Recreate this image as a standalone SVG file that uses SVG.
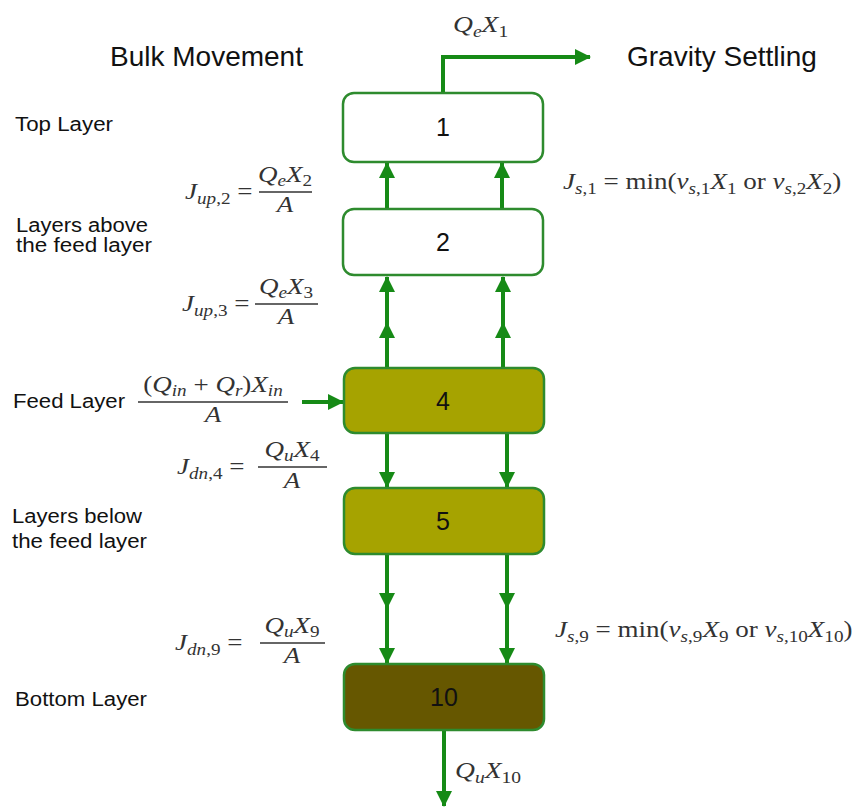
<svg xmlns="http://www.w3.org/2000/svg" width="858" height="807" viewBox="0 0 858 807">
<style>
.lbl{font-family:"Liberation Sans",Arial,sans-serif;font-size:20px;fill:#111}
.hdr{font-family:"Liberation Sans",Arial,sans-serif;font-size:28px;fill:#111}
.num{font-family:"Liberation Sans",Arial,sans-serif;font-size:25px;fill:#111;text-anchor:middle}
.m{font-family:"Liberation Serif","Times New Roman",serif;font-size:24px;fill:#333}
.i{font-style:italic}
.s{font-size:17px}
.c{text-anchor:middle}
.box{stroke:#2e8b2e;stroke-width:2.5}
.w{fill:#fff}
.o{fill:#a6a300}
.d{fill:#665700}
.ar{fill:none;stroke:#168a16;stroke-width:4}
.fl{stroke:#333;stroke-width:1.3}
</style>
<defs>
<marker id="ah" markerUnits="userSpaceOnUse" markerWidth="16" markerHeight="16" viewBox="0 0 16 16" refX="15" refY="8" orient="auto">
<path d="M0 0 L16 8 L0 16 z" fill="#168a16"/>
</marker>
</defs>

<g id="headers">
<text class="hdr" x="110" y="66">Bulk Movement</text>
<text class="hdr" x="627" y="66">Gravity Settling</text>
</g>

<g id="side-labels">
<text class="lbl" x="15" y="131" textLength="98" lengthAdjust="spacingAndGlyphs">Top Layer</text>
<text class="lbl" x="16" y="232" textLength="132" lengthAdjust="spacingAndGlyphs">Layers above</text>
<text class="lbl" x="16" y="252" textLength="136" lengthAdjust="spacingAndGlyphs">the feed layer</text>
<text class="lbl" x="13" y="408" textLength="112" lengthAdjust="spacingAndGlyphs">Feed Layer</text>
<text class="lbl" x="12" y="523" textLength="130" lengthAdjust="spacingAndGlyphs">Layers below</text>
<text class="lbl" x="12" y="548" textLength="135" lengthAdjust="spacingAndGlyphs">the feed layer</text>
<text class="lbl" x="15" y="706" textLength="132" lengthAdjust="spacingAndGlyphs">Bottom Layer</text>
</g>

<g id="connectors">
<path class="ar" d="M443 93 L443 57 L590 57" marker-end="url(#ah)"/>
<path class="ar" d="M387 209 L387 163" marker-end="url(#ah)"/>
<path class="ar" d="M502 209 L502 163" marker-end="url(#ah)"/>
<path class="ar" d="M387 368 L387 323 L387 277" marker-mid="url(#ah)" marker-end="url(#ah)"/>
<path class="ar" d="M503 368 L503 323 L503 277" marker-mid="url(#ah)" marker-end="url(#ah)"/>
<path class="ar" d="M302 402 L343 402" marker-end="url(#ah)"/>
<path class="ar" d="M387 433 L387 487" marker-end="url(#ah)"/>
<path class="ar" d="M507 433 L507 487" marker-end="url(#ah)"/>
<path class="ar" d="M387 555 L387 608 L387 663" marker-mid="url(#ah)" marker-end="url(#ah)"/>
<path class="ar" d="M507 555 L507 608 L507 663" marker-mid="url(#ah)" marker-end="url(#ah)"/>
<path class="ar" d="M444 730 L444 806" marker-end="url(#ah)"/>
</g>

<g id="node1"><rect class="box w" x="343" y="93" width="200" height="69" rx="11"/><text class="num" x="443" y="136">1</text></g>
<g id="node2"><rect class="box w" x="343" y="209" width="200" height="66" rx="11"/><text class="num" x="443" y="251">2</text></g>
<g id="node4"><rect class="box o" x="344" y="368" width="200" height="65" rx="11"/><text class="num" x="443" y="410">4</text></g>
<g id="node5"><rect class="box o" x="344" y="488" width="200" height="66" rx="11"/><text class="num" x="443" y="530">5</text></g>
<g id="node10"><rect class="box d" x="344" y="664" width="200" height="66" rx="11"/><text class="num" x="444" y="706">10</text></g>

<g id="math">
<g transform="translate(453 0) scale(1.15 1)"><text class="m" x="0" y="32"><tspan class="i">Q</tspan><tspan class="s i" dy="5">e</tspan><tspan class="i" dy="-5">X</tspan><tspan class="s" dy="5">1</tspan></text></g>
<g transform="translate(455 0) scale(1.15 1)"><text class="m" x="0" y="778"><tspan class="i">Q</tspan><tspan class="s i" dy="5">u</tspan><tspan class="i" dy="-5">X</tspan><tspan class="s" dy="5">10</tspan></text></g>

<g transform="translate(185 0) scale(1.126 1)"><text class="m" x="0" y="199"><tspan class="i">J</tspan><tspan class="s i" dy="5">up</tspan><tspan class="s">,2</tspan><tspan dy="-5"> =</tspan></text></g>
<g transform="translate(285 0) scale(1.126 1)"><text class="m c" x="0" y="182"><tspan class="i">Q</tspan><tspan class="s i" dy="4">e</tspan><tspan class="i" dy="-4">X</tspan><tspan class="s" dy="4">2</tspan></text>
<text class="m i c" x="0" y="212">A</text></g>
<line class="fl" x1="259" y1="192" x2="312" y2="192"/>

<g transform="translate(182 0) scale(1.126 1)"><text class="m" x="0" y="311"><tspan class="i">J</tspan><tspan class="s i" dy="5">up</tspan><tspan class="s">,3</tspan><tspan dy="-5"> =</tspan></text></g>
<g transform="translate(286 0) scale(1.126 1)"><text class="m c" x="0" y="294"><tspan class="i">Q</tspan><tspan class="s i" dy="4">e</tspan><tspan class="i" dy="-4">X</tspan><tspan class="s" dy="4">3</tspan></text>
<text class="m i c" x="0" y="324">A</text></g>
<line class="fl" x1="255" y1="304" x2="318" y2="304"/>

<g transform="translate(213 0) scale(1.126 1)"><text class="m c" x="0" y="392">(<tspan class="i">Q</tspan><tspan class="s i" dy="4">in</tspan><tspan dy="-4"> + </tspan><tspan class="i">Q</tspan><tspan class="s i" dy="4">r</tspan><tspan dy="-4">)</tspan><tspan class="i">X</tspan><tspan class="s i" dy="4">in</tspan></text>
<text class="m i c" x="0" y="422">A</text></g>
<line class="fl" x1="138" y1="402" x2="288" y2="402"/>

<g transform="translate(177 0) scale(1.126 1)"><text class="m" x="0" y="474"><tspan class="i">J</tspan><tspan class="s i" dy="5">dn</tspan><tspan class="s">,4</tspan><tspan dy="-5"> =</tspan></text></g>
<g transform="translate(292 0) scale(1.126 1)"><text class="m c" x="0" y="457"><tspan class="i">Q</tspan><tspan class="s i" dy="4">u</tspan><tspan class="i" dy="-4">X</tspan><tspan class="s" dy="4">4</tspan></text>
<text class="m i c" x="0" y="488">A</text></g>
<line class="fl" x1="258" y1="467" x2="327" y2="467"/>

<g transform="translate(175 0) scale(1.126 1)"><text class="m" x="0" y="650"><tspan class="i">J</tspan><tspan class="s i" dy="5">dn</tspan><tspan class="s">,9</tspan><tspan dy="-5"> =</tspan></text></g>
<g transform="translate(292 0) scale(1.126 1)"><text class="m c" x="0" y="633"><tspan class="i">Q</tspan><tspan class="s i" dy="4">u</tspan><tspan class="i" dy="-4">X</tspan><tspan class="s" dy="4">9</tspan></text>
<text class="m i c" x="0" y="663">A</text></g>
<line class="fl" x1="260" y1="643" x2="325" y2="643"/>

<g transform="translate(563 0) scale(1.126 1)"><text class="m" x="0" y="189"><tspan class="i">J</tspan><tspan class="s i" dy="5">s</tspan><tspan class="s">,1</tspan><tspan dy="-5"> = min(</tspan><tspan class="i">v</tspan><tspan class="s i" dy="5">s</tspan><tspan class="s">,1</tspan><tspan class="i" dy="-5">X</tspan><tspan class="s" dy="5">1</tspan><tspan dy="-5"> or </tspan><tspan class="i">v</tspan><tspan class="s i" dy="5">s</tspan><tspan class="s">,2</tspan><tspan class="i" dy="-5">X</tspan><tspan class="s" dy="5">2</tspan><tspan dy="-5">)</tspan></text></g>

<g transform="translate(555 0) scale(1.126 1)"><text class="m" x="0" y="637"><tspan class="i">J</tspan><tspan class="s i" dy="5">s</tspan><tspan class="s">,9</tspan><tspan dy="-5"> = min(</tspan><tspan class="i">v</tspan><tspan class="s i" dy="5">s</tspan><tspan class="s">,9</tspan><tspan class="i" dy="-5">X</tspan><tspan class="s" dy="5">9</tspan><tspan dy="-5"> or </tspan><tspan class="i">v</tspan><tspan class="s i" dy="5">s</tspan><tspan class="s">,10</tspan><tspan class="i" dy="-5">X</tspan><tspan class="s" dy="5">10</tspan><tspan dy="-5">)</tspan></text></g>
</g>
</svg>
